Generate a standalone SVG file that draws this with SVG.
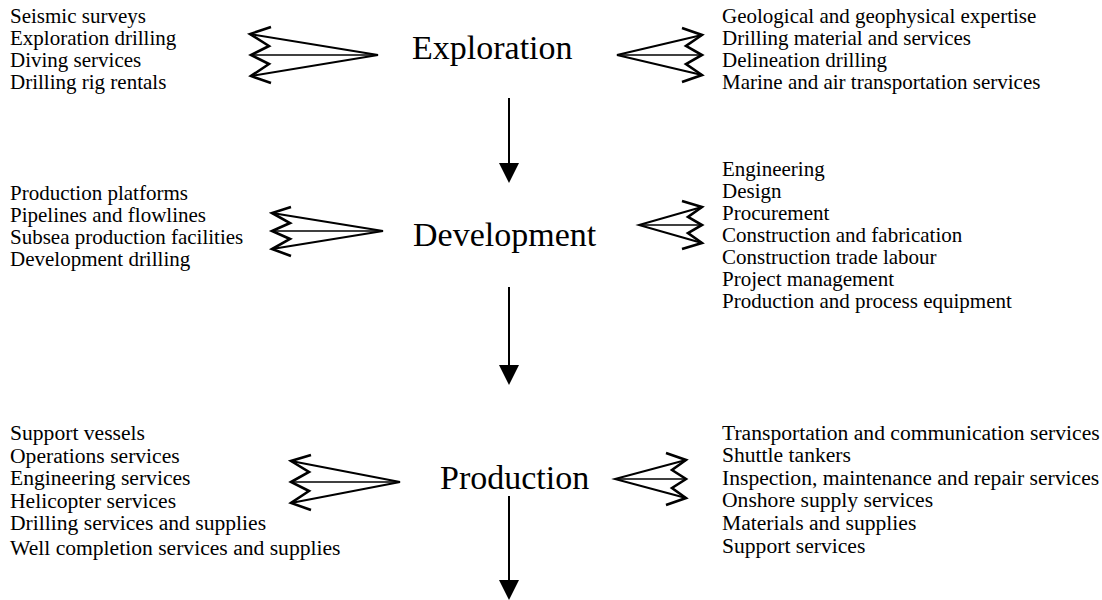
<svg xmlns="http://www.w3.org/2000/svg" width="1102" height="600" viewBox="0 0 1102 600">
  <style>
    .bg { fill: #ffffff; }
    .item { font-family: "Liberation Serif", "Times New Roman", serif; font-size: 21px; fill: #000; }
    .item-lg { font-family: "Liberation Serif", "Times New Roman", serif; font-size: 21.6px; fill: #000; }
    .stage { font-family: "Liberation Serif", "Times New Roman", serif; font-size: 34px; fill: #000; }
    .zig { fill: none; stroke: #000; stroke-width: 2.6; stroke-linejoin: miter; stroke-linecap: butt; }
    .ray { fill: none; stroke: #000; stroke-width: 2; }
    .mid { fill: none; stroke: #000; stroke-width: 1.3; }
    .flow { stroke: #000; stroke-width: 2; }
    .head { fill: #000; }
  </style>

  <rect class="bg" x="0" y="0" width="1102" height="600"/>

  <!-- Stage: Exploration -->
  <g id="exploration">
    <text class="stage" x="412" y="59">Exploration</text>
  </g>
  <g id="exploration-inputs-left">
    <text class="item" x="10" y="23">Seismic surveys</text>
    <text class="item" x="10" y="45">Exploration drilling</text>
    <text class="item" x="10" y="67">Diving services</text>
    <text class="item" x="10" y="89">Drilling rig rentals</text>
  </g>
  <g id="exploration-inputs-right">
    <text class="item" x="722" y="23">Geological and geophysical expertise</text>
    <text class="item" x="722" y="45">Drilling material and services</text>
    <text class="item" x="722" y="67">Delineation drilling</text>
    <text class="item" x="722" y="89">Marine and air transportation services</text>
  </g>

  <!-- Stage: Development -->
  <g id="development">
    <text class="stage" x="413" y="246">Development</text>
  </g>
  <g id="development-inputs-left">
    <text class="item" x="10" y="200">Production platforms</text>
    <text class="item" x="10" y="222">Pipelines and flowlines</text>
    <text class="item" x="10" y="244">Subsea production facilities</text>
    <text class="item" x="10" y="266">Development drilling</text>
  </g>
  <g id="development-inputs-right">
    <text class="item" x="722" y="176">Engineering</text>
    <text class="item" x="722" y="198">Design</text>
    <text class="item" x="722" y="220">Procurement</text>
    <text class="item" x="722" y="242">Construction and fabrication</text>
    <text class="item" x="722" y="264">Construction trade labour</text>
    <text class="item" x="722" y="286">Project management</text>
    <text class="item" x="722" y="308">Production and process equipment</text>
  </g>

  <!-- Stage: Production -->
  <g id="production">
    <text class="stage" x="440" y="489">Production</text>
  </g>
  <g id="production-inputs-left">
    <text class="item-lg" x="10" y="440">Support vessels</text>
    <text class="item-lg" x="10" y="463">Operations services</text>
    <text class="item-lg" x="10" y="485">Engineering services</text>
    <text class="item-lg" x="10" y="508">Helicopter services</text>
    <text class="item-lg" x="10" y="530">Drilling services and supplies</text>
    <text class="item-lg" x="10" y="555">Well completion services and supplies</text>
  </g>
  <g id="production-inputs-right">
    <text class="item-lg" x="722" y="440">Transportation and communication services</text>
    <text class="item-lg" x="722" y="462">Shuttle tankers</text>
    <text class="item-lg" x="722" y="485">Inspection, maintenance and repair services</text>
    <text class="item-lg" x="722" y="507">Onshore supply services</text>
    <text class="item-lg" x="722" y="530">Materials and supplies</text>
    <text class="item-lg" x="722" y="553">Support services</text>
  </g>

  <!-- Connectors: fan arrows from supplier lists and stage-to-stage flow -->
  <g id="connectors">
    <!-- Exploration, left fan -->
    <g>
      <path class="zig" d="M271,27 L250,34 L269,46 L251,55 L269,64 L251,76 L271,83"/>
      <path class="ray" d="M250,34 L378,55 L251,76"/>
      <path class="mid" d="M251,55 L378,55"/>
    </g>
    <!-- Exploration, right fan -->
    <g>
      <path class="zig" d="M682,28 L702,35 L686,46 L702,55 L686,64 L702,75 L682,82"/>
      <path class="ray" d="M702,35 L617,55 L702,75"/>
      <path class="mid" d="M702,55 L617,55"/>
    </g>
    <!-- Development, left fan -->
    <g>
      <path class="zig" d="M291,207 L272,213 L290,223 L272,231 L290,239 L272,249 L291,256"/>
      <path class="ray" d="M272,213 L383,231 L272,249"/>
      <path class="mid" d="M272,231 L383,231"/>
    </g>
    <!-- Development, right fan -->
    <g>
      <path class="zig" d="M682,201 L702,207 L688,217 L702,225 L688,233 L702,243 L682,249"/>
      <path class="ray" d="M702,207 L639,225 L702,243"/>
      <path class="mid" d="M702,225 L639,225"/>
    </g>
    <!-- Production, left fan -->
    <g>
      <path class="zig" d="M311,455 L291,461 L309,472 L291,482 L309,491 L291,503 L311,510"/>
      <path class="ray" d="M291,461 L400,482 L291,503"/>
      <path class="mid" d="M291,482 L400,482"/>
    </g>
    <!-- Production, right fan -->
    <g>
      <path class="zig" d="M666,453 L686,460 L672,470 L686,479 L672,488 L686,498 L666,505"/>
      <path class="ray" d="M686,460 L615,479 L686,498"/>
      <path class="mid" d="M686,479 L615,479"/>
    </g>

    <!-- Exploration to Development -->
    <line class="flow" x1="509" y1="98" x2="509" y2="165"/>
    <polygon class="head" points="499,163 519,163 509,183"/>
    <!-- Development to Production -->
    <line class="flow" x1="509" y1="287" x2="509" y2="367"/>
    <polygon class="head" points="499,365 519,365 509,385"/>
    <!-- Production onward -->
    <line class="flow" x1="509" y1="496" x2="509" y2="582"/>
    <polygon class="head" points="499,580 519,580 509,600"/>
  </g>
</svg>
